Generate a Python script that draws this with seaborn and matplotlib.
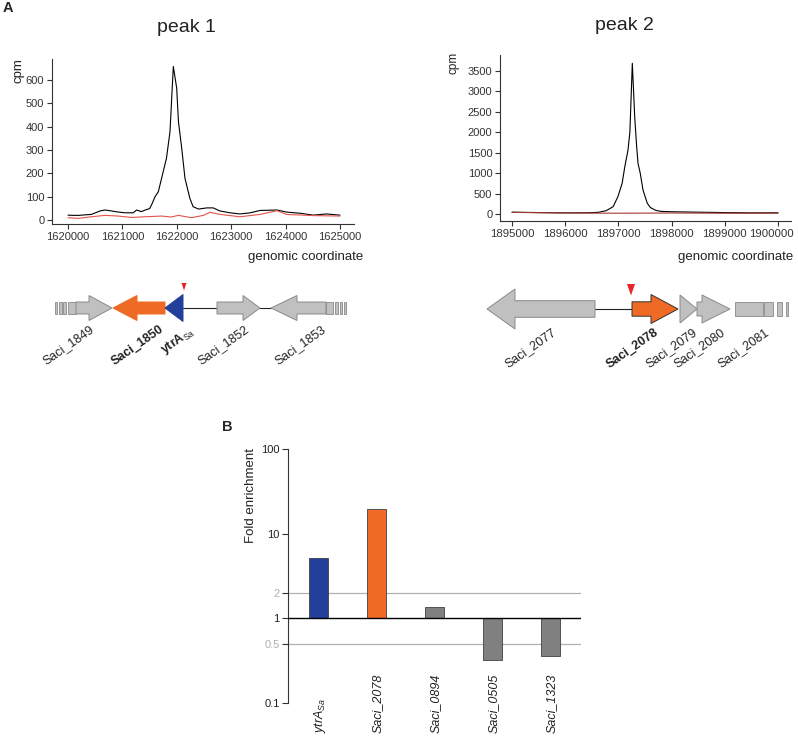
import numpy as np
import matplotlib.pyplot as plt
import matplotlib.transforms as mtransforms
from matplotlib.patches import Polygon, Rectangle
from matplotlib.ticker import FuncFormatter
import seaborn as sns

W, H = 798, 737

# ---- panel A, peak 1 (black = ChIP, red = control) ----
peak1_pos = [1620000, 1620100, 1620200, 1620300, 1620430, 1620590, 1620680, 1620800,
             1620900, 1621050, 1621200, 1621260, 1621350, 1621420, 1621500, 1621540,
             1621600, 1621660, 1621750, 1621810, 1621875, 1621910, 1621936, 1621998,
             1622030, 1622090, 1622150, 1622240, 1622300, 1622400, 1622550, 1622670,
             1622790, 1622980, 1623160, 1623350, 1623530, 1623840, 1624020, 1624270,
             1624510, 1624750, 1625000]
peak1_cpm = [21, 20, 20, 22, 24, 39, 43, 39,
             35, 31, 31, 43, 36, 43, 49, 67,
             100, 121, 207, 265, 379, 540, 658, 565,
             422, 308, 179, 93, 57, 47, 52, 52,
             39, 31, 26, 31, 41, 43, 34, 29,
             21, 26, 21]
peak1_ctrl_pos = [1620000, 1620190, 1620430, 1620680, 1620920, 1621170, 1621410, 1621720,
                  1621900, 1622030, 1622270, 1622490, 1622610, 1622800, 1623160, 1623530,
                  1623840, 1624020, 1624510, 1625000]
peak1_ctrl_cpm = [10, 7, 14, 20, 17, 11, 14, 17,
                  13, 20, 10, 20, 33, 24, 14, 24,
                  40, 24, 19, 17]

# ---- panel A, peak 2 ----
peak2_pos = [1895000, 1895500, 1896000, 1896400, 1896620, 1896770, 1896900, 1896990,
             1897070, 1897120, 1897180, 1897215, 1897240, 1897261, 1897285, 1897306,
             1897340, 1897368, 1897410, 1897462, 1897543, 1897600, 1897700, 1897800,
             1898000, 1898500, 1899000, 1899500, 1900000]
peak2_cpm = [45, 35, 28, 30, 41, 81, 179, 423,
             751, 1158, 1566, 2000, 2900, 3688, 3000, 2381,
             1700, 1240, 1000, 587, 262, 160, 90, 65,
             55, 45, 35, 28, 30]
peak2_ctrl_pos = [1895000, 1895500, 1896000, 1896500, 1897000, 1897500, 1898000,
                  1898500, 1899000, 1899500, 1900000]
peak2_ctrl_cpm = [40, 32, 25, 22, 20, 22, 25, 22, 20, 18, 20]

# ---- gene maps (map units) ----
map1_names = ["Saci_1849", "Saci_1850", r"$\mathbf{ytrA}_{\mathrm{Sa}}$", "Saci_1852", "Saci_1853"]
map1_tail = [76, 165, 183, 217, 326]
map1_tip = [112, 113, 165, 260, 271]
map1_bold = [False, True, False, False, False]
map1_kind = ["gray", "orange", "blue", "gray", "gray"]
map1_stubs = [(55, 57.3), (59, 61.7), (63.3, 66), (67.7, 76),
              (326, 333), (335, 338.3), (340, 342.3), (344.3, 346)]
map1_links = [(183, 217), (260, 271)]
map1_site = 184

map2_names = ["Saci_2077", "Saci_2078", "Saci_2079", "Saci_2080"]
map2_tail = [595, 632, 680, 697]
map2_tip = [487, 678, 697, 730]
map2_bold = [False, True, False, False]
map2_kind = ["gray", "orange", "gray", "gray"]
map2_stubs = [(735, 763.3), (764, 773), (776.7, 781.7), (785.7, 788.3)]
map2_stub_name = "Saci_2081"
map2_links = [(595, 632)]
map2_site = 631

# ---- panel B ----
bar_keys = ["ytrA", "Saci_2078", "Saci_0894", "Saci_0505", "Saci_1323"]
bar_labels = [r"$\mathit{ytrA}_{\mathit{Sa}}$", "Saci_2078", "Saci_0894", "Saci_0505", "Saci_1323"]
bar_fold = [5.1, 19.4, 1.37, 0.325, 0.363]
fold_ticks = [0.1, 0.5, 1, 2, 10, 100]
fold_tick_labels = ["0.1", "0.5", "1", "2", "10", "100"]

COLORS = {"gray": "#c0c0c0", "orange": "#ee6a25", "blue": "#22409a"}
bar_colors = ["#22409a", "#ee6a25", "#808080", "#808080", "#808080"]

sns.set_style("white")
plt.rcParams["font.family"] = ["Liberation Sans", "DejaVu Sans"]
plt.rcParams["mathtext.fontset"] = "custom"
plt.rcParams["mathtext.rm"] = "Liberation Sans"
plt.rcParams["mathtext.it"] = "Liberation Sans:italic"
plt.rcParams["mathtext.bf"] = "Liberation Sans:bold"

fig = plt.figure(figsize=(W / 100, H / 100), dpi=100)


def box(x0, y0, x1, y1):
    # pixel box (top-left origin) -> figure fraction rect
    return [x0 / W, 1 - y1 / H, (x1 - x0) / W, (y1 - y0) / H]


def style_peak(ax):
    for s in ["top", "right"]:
        ax.spines[s].set_visible(False)
    for s in ["left", "bottom"]:
        ax.spines[s].set_color("#333333")
        ax.spines[s].set_linewidth(0.8)
    ax.tick_params(direction="out", length=3.5, width=0.8, color="#333333",
                   labelcolor="#333333", labelsize=8, left=True, bottom=True, pad=2)
    ax.xaxis.set_major_formatter(FuncFormatter(lambda v, p: f"{int(round(v))}"))
    ax.set_xlabel("")


# peak 1
ax1 = fig.add_axes(box(52, 59, 354, 224))
sns.lineplot(x=peak1_pos, y=peak1_cpm, color="black", lw=0.8, ax=ax1)
sns.lineplot(x=peak1_ctrl_pos, y=peak1_ctrl_cpm, color="#e5534b", lw=0.8, ax=ax1)
ax1.set_xlim(1619706, 1625257)
ax1.set_ylim(-17, 690)
ax1.set_xticks(range(1620000, 1625001, 1000))
ax1.set_yticks(range(0, 601, 100))
style_peak(ax1)
ax1.set_ylabel("cpm", fontsize=9.5, color="#222222")
ax1.yaxis.set_label_coords(-0.09, 0.93)

# peak 2
ax2 = fig.add_axes(box(500, 55, 791, 221))
sns.lineplot(x=peak2_pos, y=peak2_cpm, color="black", lw=0.8, ax=ax2)
sns.lineplot(x=peak2_ctrl_pos, y=peak2_ctrl_cpm, color="#a33a35", lw=0.8, ax=ax2)
ax2.set_xlim(1894774, 1900244)
ax2.set_ylim(-171, 3891)
ax2.set_xticks(range(1895000, 1900001, 1000))
ax2.set_yticks(range(0, 3501, 500))
style_peak(ax2)
ax2.tick_params(axis="x", labelsize=8.2)
ax2.set_ylabel("cpm", fontsize=8.5, color="#222222")
ax2.yaxis.set_label_coords(-0.14, 0.95)
# keep the last coordinate label inside the canvas
last = ax2.get_xticklabels()[-1]
last.set_transform(last.get_transform() + mtransforms.ScaledTranslation(-5 / 72, 0, fig.dpi_scale_trans))

fig.text(186 / W, 1 - 27 / H, "peak 1", fontsize=14, ha="center", va="center", color="#222222")
fig.text(624 / W, 1 - 25 / H, "peak 2", fontsize=14, ha="center", va="center", color="#222222")
fig.text(363 / W, 1 - 257 / H, "genomic coordinate", fontsize=9.5, ha="right", va="center", color="#222222")
fig.text(793 / W, 1 - 257 / H, "genomic coordinate", fontsize=9.5, ha="right", va="center", color="#222222")
fig.text(3 / W, 1 - 8 / H, "A", fontsize=10.5, fontweight="bold", ha="left", va="center")
fig.text(222 / W, 1 - 427 / H, "B", fontsize=10.5, fontweight="bold", ha="left", va="center")

# gene maps, drawn in map units on a full-figure canvas
axm = fig.add_axes([0, 0, 1, 1], zorder=-1)
axm.set_xlim(0, W)
axm.set_ylim(H, 0)
axm.axis("off")


def gene_shape(tail, tip, body_h, head_h, head_len, yc):
    d = 1 if tip > tail else -1
    base = tip - d * head_len
    if abs(base - tail) < 0.5:
        return [(tail, yc - head_h), (tip, yc), (tail, yc + head_h)]
    return [(tail, yc - body_h), (base, yc - body_h), (base, yc - head_h), (tip, yc),
            (base, yc + head_h), (base, yc + body_h), (tail, yc + body_h)]


def draw_map(names, tails, tips, kinds, bold, stubs, links, site, yc, body_h, head_h,
             head_len, label_x, label_y, site_size, edge_dark=()):
    for x0, x1 in links:
        axm.plot([x0, x1], [yc, yc], color="#222222", lw=0.8, zorder=1)
    for x0, x1 in stubs:
        axm.add_patch(Rectangle((x0, yc - body_h[-1]), x1 - x0, 2 * body_h[-1],
                                facecolor=COLORS["gray"], edgecolor="#8a8a8a", lw=0.6, zorder=2))
    for i, name in enumerate(names):
        ec = "#333333" if i in edge_dark else ("#8a8a8a" if kinds[i] == "gray" else COLORS[kinds[i]])
        axm.add_patch(Polygon(gene_shape(tails[i], tips[i], body_h[i], head_h[i], head_len[i], yc),
                              closed=True, facecolor=COLORS[kinds[i]], edgecolor=ec, lw=0.7, zorder=3))
    for i, name in enumerate(names):
        axm.text(label_x[i], label_y, name, rotation=35, rotation_mode="anchor",
                 ha="right", va="top", fontsize=9,
                 fontweight="bold" if bold[i] else "normal", color="#222222")
    w, h = site_size
    axm.add_patch(Polygon([(site - w / 2, yc - 25), (site + w / 2, yc - 25),
                           (site, yc - 25 + h)], closed=True, facecolor="#e8262a",
                          edgecolor="none", zorder=4))


draw_map(map1_names, map1_tail, map1_tip, map1_kind, map1_bold, map1_stubs, map1_links,
         map1_site, yc=308, body_h=[6, 6, 6, 6, 6], head_h=[12.5, 12.5, 13.5, 12.5, 12.5],
         head_len=[23, 24, 18, 17, 26], label_x=[89, 159, 189, 244, 321], label_y=323,
         site_size=(5, 7.5))
draw_map(map2_names, map2_tail, map2_tip, map2_kind, map2_bold, map2_stubs, map2_links,
         map2_site, yc=309, body_h=[8.3, 7.2, 7, 7, 6.7], head_h=[20, 14.5, 14, 14],
         head_len=[28, 27, 17, 28], label_x=[551, 654, 692, 720], label_y=326,
         site_size=(8, 11.5), edge_dark=(1,))
axm.text(764, 326, map2_stub_name, rotation=35, rotation_mode="anchor",
         ha="right", va="top", fontsize=9, color="#222222")

# panel B: log10 fold enrichment, bars grow from 1
axb = fig.add_axes(box(288, 449, 581, 703))
sns.barplot(x=bar_keys, y=np.log10(bar_fold), hue=bar_keys, palette=bar_colors,
            legend=False, width=0.33, saturation=1, edgecolor="#404040", linewidth=0.6,
            ax=axb, zorder=3)
axb.set_xlim(-0.527, 4.53)
axb.set_ylim(-1, 2)
axb.axhline(np.log10(2), color="#b0b0b0", lw=0.9, zorder=1)
axb.axhline(np.log10(0.5), color="#b0b0b0", lw=0.9, zorder=1)
axb.axhline(0, color="black", lw=1.0, zorder=4)
axb.set_yticks(np.log10(fold_ticks))
axb.set_yticklabels(fold_tick_labels)
for s in ["top", "right", "bottom"]:
    axb.spines[s].set_visible(False)
axb.spines["left"].set_color("#333333")
axb.spines["left"].set_linewidth(0.8)
axb.spines["left"].set_bounds(-1, 2)
axb.tick_params(axis="y", direction="out", length=4, width=0.8, color="#333333",
                labelsize=8, labelcolor="#222222", left=True, pad=2)
axb.tick_params(axis="x", bottom=False, labelbottom=False)
for lab, tk, val in zip(axb.get_yticklabels(), axb.yaxis.get_major_ticks(), fold_ticks):
    if val in (0.5, 2):
        lab.set_color("#b0b0b0")
        tk.tick1line.set_color("#b0b0b0")
axb.set_xlabel("")
axb.set_ylabel("Fold enrichment", fontsize=9.5, color="#222222")
axb.yaxis.set_label_coords(-0.106, 0.815)
trans = mtransforms.blended_transform_factory(axb.transData, axb.transAxes)
for i, lab in enumerate(bar_labels):
    style = "normal" if lab.startswith("$") else "italic"
    axb.text(i + 0.02, -0.118, lab, transform=trans, rotation=90, ha="center", va="bottom",
             fontsize=9, style=style, color="#222222")

fig.savefig("out.png", dpi=100)
